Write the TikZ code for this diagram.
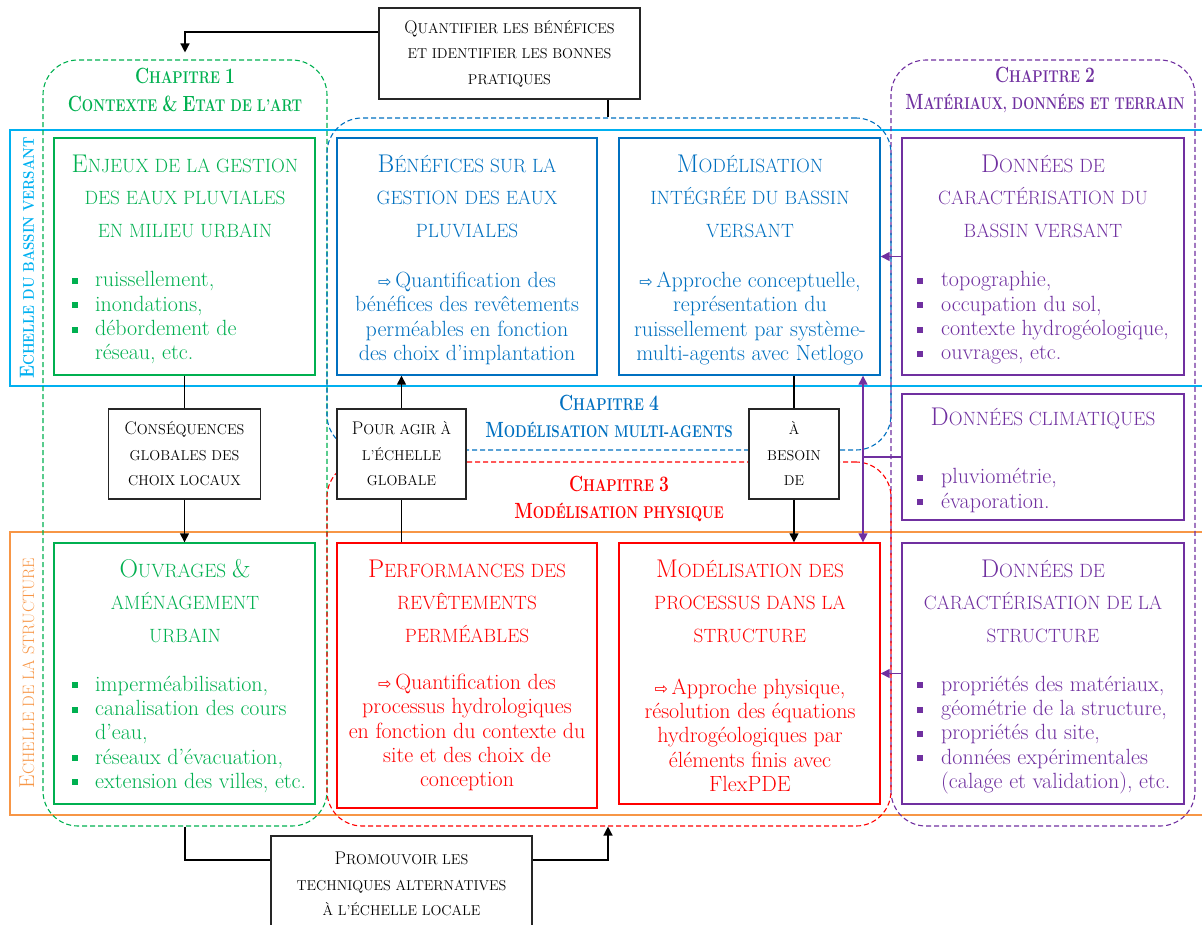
\documentclass[tikz,border=0pt]{standalone}
\usepackage{fontspec}
\usepackage{graphicx}
\newfontfamily\symf{DejaVu Sans}
\usetikzlibrary{arrows.meta,calc}
\definecolor{cgreen}{HTML}{00B050}
\definecolor{cblue}{HTML}{0070C0}
\definecolor{clblue}{HTML}{00B0F0}
\definecolor{cpurple}{HTML}{7030A0}
\definecolor{cred}{HTML}{FF0000}
\definecolor{corange}{HTML}{F79646}
\newcommand\arr{{\symf\fontsize{16}{16}\selectfont ⇨}\,}
\newcommand\bul{\rule[3pt]{6pt}{6pt}}
\def\bigsz{24}
\newcommand\B[1]{{\fontsize{\bigsz}{\bigsz}\selectfont #1}}
\newcommand\cond[1]{\scalebox{0.79}[1]{#1}}
\tikzset{
 cbox/.style={draw=#1, line width=1.4pt, fill=white, inner sep=0pt},
 kbox/.style={draw=black!85, line width=1.4pt, fill=white, inner sep=0pt, text=black, font=\fontsize{14.3}{25.5}\selectfont\def\bigsz{18.3}, align=center},
 chbox/.style={draw=#1, dash pattern=on 5pt off 3pt, line width=1.1pt, rounded corners=35pt, inner sep=0pt},
 ttl/.style={text=#1, font=\fontsize{19.2}{32.5}\selectfont\def\bigsz{25.6}, align=center, inner sep=0pt},
 bdy/.style={text=#1, font=\fontsize{22}{24.3}\selectfont, align=center, inner sep=0pt},
 lst/.style={text=#1, font=\fontsize{22}{24.3}\selectfont, align=left, inner sep=0pt, anchor=west},
 chttl/.style={text=#1, font=\bfseries\fontsize{17}{27.5}\selectfont\def\bigsz{22}, align=center, inner sep=0pt},
 conn/.style={line width=1.4pt, draw=black},
 tip/.style={-{Triangle[length=9pt,width=9pt]}},
 tips/.style={{Triangle[length=9pt,width=9pt]}-{Triangle[length=9pt,width=9pt]}},
}
\begin{document}
\begin{tikzpicture}[x=1pt,y=-1pt]
\useasboundingbox (0,0) rectangle (1202,924);
% bands
\draw[clblue, line width=1.1pt] (1203,130) -- (10,130) -- (10,386) -- (1203,386);
\draw[corange, line width=1.1pt] (1203,532) -- (10,532) -- (10,815) -- (1203,815);
\node[rotate=90, text=clblue, font=\bfseries\fontsize{15.5}{18}\selectfont\def\bigsz{20.5}, inner sep=0pt] (vlab1) at (27,258) {\scalebox{0.86}[1]{\B{E}CHELLE DU BASSIN VERSANT}};
\node[rotate=90, text=corange, font=\fontsize{16.5}{18}\selectfont\def\bigsz{21.5}, inner sep=0pt] (vlab2) at (27,673) {\B{E}CHELLE DE LA STRUCTURE};
% chapter boxes
\node[chbox=cgreen, minimum width=284pt, minimum height=766pt] (ch1) at (185,443) {};
\node[chbox=cpurple, minimum width=304pt, minimum height=766pt] (ch2) at (1043,443) {};
\node[chbox=cblue, minimum width=564pt, minimum height=332pt] (ch4) at (609,284) {};
\node[chbox=cred, minimum width=564pt, minimum height=364pt] (ch3) at (609,644) {};
\node[chttl=cgreen] (ch1t) at (185,90) {\cond{\B{C}HAPITRE \B{1}}\\\cond{\B{C}ONTEXTE \B{\&} \B{E}TAT DE L’ART}};
\node[chttl=cpurple] (ch2t) at (1045,90) {\cond{\B{C}HAPITRE \B{2}}\\\scalebox{0.77}[1]{\B{M}ATÉRIAUX, DONNÉES ET TERRAIN}};
\node[chttl=cblue] (ch4t) at (609,416.5) {\cond{\B{C}HAPITRE \B{4}}\\\cond{\B{M}ODÉLISATION MULTI-AGENTS}};
\node[chttl=cred] (ch3t) at (619,499) {\cond{\B{C}HAPITRE \B{3}}\\\cond{\B{M}ODÉLISATION PHYSIQUE}};
% coloured boxes
\node[cbox=cgreen, minimum width=261pt, minimum height=237pt] (enjeux) at (184.5,256.5) {};
\node[cbox=cblue, minimum width=260pt, minimum height=237pt] (benef) at (467,256.5) {};
\node[cbox=cblue, minimum width=261pt, minimum height=237pt] (modint) at (749.5,256.5) {};
\node[cbox=cpurple, minimum width=282pt, minimum height=237pt] (dcbv) at (1043,256.5) {};
\node[cbox=cpurple, minimum width=282pt, minimum height=126pt] (dclim) at (1043,457) {};
\node[cbox=cgreen, minimum width=261pt, minimum height=261pt] (ouvr) at (184.5,673.5) {};
\node[cbox=cred, minimum width=260pt, minimum height=265pt] (perf) at (467,675.5) {};
\node[cbox=cred, minimum width=261pt, minimum height=261pt] (modproc) at (749.5,673.5) {};
\node[cbox=cpurple, minimum width=282pt, minimum height=261pt] (dcst) at (1043,673.5) {};
% black boxes
\node[kbox, minimum width=261pt, minimum height=91pt] (quant) at (509.5,53.5) {\B{Q}UANTIFIER LES BÉNÉFICES\\ET IDENTIFIER LES BONNES\\PRATIQUES};
\node[kbox, minimum width=152pt, minimum height=90pt] (conseq) at (184.5,454) {\B{C}ONSÉQUENCES\\GLOBALES DES\\CHOIX LOCAUX};
\node[kbox, minimum width=129pt, minimum height=90pt] (pour) at (401.5,454) {\B{P}OUR AGIR À\\L’ÉCHELLE\\GLOBALE};
\node[kbox, minimum width=90pt, minimum height=90pt] (besoin) at (794,454) {À\\BESOIN\\DE};
\node[kbox, minimum width=261pt, minimum height=96pt] (promo) at (401.5,884) {};
\node[kbox, fill=none, draw=none] (promot) at (401.5,884) {\B{P}ROMOUVOIR LES\\TECHNIQUES ALTERNATIVES\\À L’ÉCHELLE LOCALE};
% texts in boxes
\node[ttl=cgreen] (enjeuxT) at (185,196) {\B{E}NJEUX DE LA GESTION\\DES EAUX PLUVIALES\\EN MILIEU URBAIN};
\node[lst=cgreen] (enjeuxL) at (72,318.5) {\begin{tabular}{@{}p{23pt}@{}l@{}}\bul&ruissellement,\\\bul&inondations,\\\bul&débordement de\\&réseau, etc.\end{tabular}};
\node[ttl=cblue] (benefT) at (467,196) {\B{B}ÉNÉFICES SUR LA\\GESTION DES EAUX\\PLUVIALES};
\node[bdy=cblue] (benefB) at (467,318.5) {\arr Quantification des\\bénéfices des revêtements\\perméables en fonction\\des choix d’implantation};
\node[ttl=cblue] (modintT) at (750,196) {\B{M}ODÉLISATION\\INTÉGRÉE DU BASSIN\\VERSANT};
\node[bdy=cblue] (modintB) at (750,318.5) {\arr Approche conceptuelle,\\représentation du\\ruissellement par système-\\multi-agents avec Netlogo};
\node[ttl=cpurple] (dcbvT) at (1043,196) {\B{D}ONNÉES DE\\CARACTÉRISATION DU\\BASSIN VERSANT};
\node[lst=cpurple] (dcbvL) at (917,318.5) {\begin{tabular}{@{}p{24pt}@{}l@{}}\bul&topographie,\\\bul&occupation du sol,\\\bul&contexte hydrogéologique,\\\bul&ouvrages, etc.\end{tabular}};
\node[ttl=cpurple] (dclimT) at (1043,419) {\B{D}ONNÉES CLIMATIQUES};
\node[lst=cpurple] (dclimL) at (917,491) {\begin{tabular}{@{}p{24pt}@{}l@{}}\bul&pluviométrie,\\\bul&évaporation.\end{tabular}};
\node[ttl=cgreen] (ouvrT) at (185,601) {\B{O}UVRAGES \B{\&}\\AMÉNAGEMENT\\URBAIN};
\node[lst=cgreen] (ouvrL) at (72,735) {\begin{tabular}{@{}p{23pt}@{}l@{}}\bul&imperméabilisation,\\\bul&canalisation des cours\\&d’eau,\\\bul&réseaux d’évacuation,\\\bul&extension des villes, etc.\end{tabular}};
\node[ttl=cred] (perfT) at (467,601) {\B{P}ERFORMANCES DES\\REVÊTEMENTS\\PERMÉABLES};
\node[bdy=cred] (perfB) at (467,732.5) {\arr Quantification des\\processus hydrologiques\\en fonction du contexte du\\site et des choix de\\conception};
\node[ttl=cred] (modprocT) at (750,601) {\B{M}ODÉLISATION DES\\PROCESSUS DANS LA\\STRUCTURE};
\node[bdy=cred] (modprocB) at (750,735) {\arr Approche physique,\\résolution des équations\\hydrogéologiques par\\éléments finis avec\\FlexPDE};
\node[ttl=cpurple] (dcstT) at (1043,601) {\B{D}ONNÉES DE\\CARACTÉRISATION DE LA\\STRUCTURE};
\node[lst=cpurple] (dcstL) at (917,735) {\begin{tabular}{@{}p{24pt}@{}l@{}}\bul&propriétés des matériaux,\\\bul&géométrie de la structure,\\\bul&propriétés du site,\\\bul&données expérimentales\\&(calage et validation), etc.\end{tabular}};
% connectors
\coordinate (qx) at (608,0);
\coordinate (pv) at (863,0);
\draw[conn] (enjeux.south -| conseq) -- (conseq.north);
\draw[conn, tip] (conseq.south) -- (ouvr.north -| conseq);
\draw[conn] (perf.north -| pour) -- (pour.south);
\draw[conn, tip] (pour.north) -- (benef.south -| pour);
\draw[conn] (modint.south -| besoin) -- (besoin.north);
\draw[conn, tip] (besoin.south) -- (modproc.north -| besoin);
\draw[conn, tip] ([yshift=21.5pt]quant.west) -| ([yshift=7pt]ch1.north);
\draw[conn] (quant.south -| qx) -- (ch4.north -| qx);
\draw[conn] (ch1.south) |- ([yshift=24pt]promo.west);
\draw[conn, tip] ([yshift=24pt]promo.east) -| (ch3.south -| qx);
\draw[cpurple, line width=1.4pt, tips] (modint.south -| pv) -- (modproc.north -| pv);
\draw[cpurple, line width=1.4pt] (dclim.west) -- (dclim.west -| pv);
\draw[cpurple, line width=1.4pt, tip] (dcbv.west) -- (modint.east);
\draw[cpurple, line width=1.4pt, tip] (dcst.west) -- (modproc.east);
\end{tikzpicture}
\end{document}
